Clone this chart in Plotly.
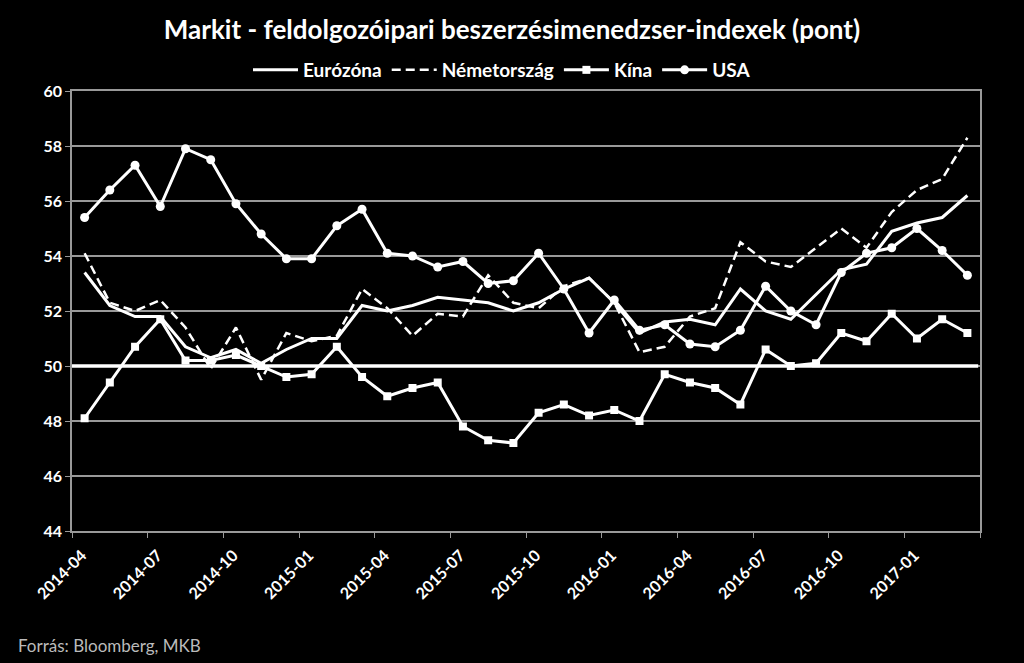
import plotly.graph_objects as go

months = ["2014-04","2014-05","2014-06","2014-07","2014-08","2014-09","2014-10","2014-11","2014-12",
          "2015-01","2015-02","2015-03","2015-04","2015-05","2015-06","2015-07","2015-08","2015-09",
          "2015-10","2015-11","2015-12","2016-01","2016-02","2016-03","2016-04","2016-05","2016-06",
          "2016-07","2016-08","2016-09","2016-10","2016-11","2016-12","2017-01","2017-02","2017-03"]

eurozone = [53.4,52.2,51.8,51.8,50.7,50.3,50.6,50.1,50.6,51.0,51.0,52.2,52.0,52.2,52.5,52.4,52.3,52.0,
            52.3,52.8,53.2,52.3,51.2,51.6,51.7,51.5,52.8,52.0,51.7,52.6,53.5,53.7,54.9,55.2,55.4,56.2]
germany = [54.1,52.3,52.0,52.4,51.4,49.9,51.4,49.5,51.2,50.9,51.1,52.8,52.1,51.1,51.9,51.8,53.3,52.3,
           52.1,52.9,53.2,52.3,50.5,50.7,51.8,52.1,54.5,53.8,53.6,54.3,55.0,54.3,55.6,56.4,56.8,58.3]
china = [48.1,49.4,50.7,51.7,50.2,50.2,50.4,50.0,49.6,49.7,50.7,49.6,48.9,49.2,49.4,47.8,47.3,47.2,
         48.3,48.6,48.2,48.4,48.0,49.7,49.4,49.2,48.6,50.6,50.0,50.1,51.2,50.9,51.9,51.0,51.7,51.2]
usa = [55.4,56.4,57.3,55.8,57.9,57.5,55.9,54.8,53.9,53.9,55.1,55.7,54.1,54.0,53.6,53.8,53.0,53.1,
       54.1,52.8,51.2,52.4,51.3,51.5,50.8,50.7,51.3,52.9,52.0,51.5,53.4,54.1,54.3,55.0,54.2,53.3]

title_text = "Markit - feldolgozóipari beszerzésimenedzser-indexek (pont)"
source_text = "Forrás: Bloomberg, MKB"
y_ticks = [44, 46, 48, 50, 52, 54, 56, 58, 60]

x = list(range(len(months)))
tick_pos = [i - 0.5 for i in range(0, len(months), 3)] + [len(months) - 0.5]
tick_txt = [months[i] for i in range(0, len(months), 3)] + [""]

FONT = "Lato"
PW, PH = 908, 440
fig = go.Figure()
fig.add_trace(go.Scatter(x=x, y=eurozone, name="Eurózóna", mode="lines",
                         line=dict(color="white", width=3)))
fig.add_trace(go.Scatter(x=x, y=germany, name="Németország", mode="lines",
                         line=dict(color="white", width=2.5, dash="9px,5px")))
fig.add_trace(go.Scatter(x=x, y=china, name="Kína", mode="lines+markers",
                         line=dict(color="white", width=3),
                         marker=dict(symbol="square", size=8, color="white")))
fig.add_trace(go.Scatter(x=x, y=usa, name="USA", mode="lines+markers",
                         line=dict(color="white", width=3),
                         marker=dict(symbol="circle", size=9, color="white")))

fig.add_shape(type="line", xref="paper", yref="y", x0=0, x1=0.998, y0=50, y1=50,
              line=dict(color="white", width=3.5), layer="above")

fig.update_layout(
    width=1024, height=663,
    paper_bgcolor="black", plot_bgcolor="black",
    margin=dict(l=72, r=44, t=91, b=132, autoexpand=False),
    font=dict(family=FONT, color="white"),
    title=dict(text=title_text, x=0.5, xref="container", xanchor="center",
               y=1 - 30 / 663, yref="container", yanchor="middle", automargin=False,
               font=dict(family=FONT, size=26, color="white", weight="bold")),
    legend=dict(orientation="h", x=(502 - 72) / PW, xref="paper", xanchor="center",
                y=1 + (91 - 70) / PH, yref="paper", yanchor="middle",
                font=dict(family=FONT, size=19, color="white", weight="bold"),
                bgcolor="rgba(0,0,0,0)", tracegroupgap=0, itemwidth=45),
    showlegend=True,
    xaxis=dict(range=[-0.5, len(months) - 0.5], tickmode="array", tickvals=tick_pos, ticktext=tick_txt,
               tickangle=-45, ticks="outside", ticklen=5, tickcolor="#999999", automargin=False,
               ticklabelshift=10, ticklabelstandoff=2,
               showgrid=False, zeroline=False, showline=True, linecolor="#999999", linewidth=1.5,
               mirror=True,
               tickfont=dict(family=FONT, size=16, color="white", weight="bold")),
    yaxis=dict(range=[44, 60], tickmode="array", tickvals=y_ticks, automargin=False,
               ticks="outside", ticklen=5, tickcolor="#999999",
               showgrid=True, gridcolor="#999999", gridwidth=1.5, zeroline=False,
               showline=True, linecolor="#999999", linewidth=1.5, mirror=True,
               tickfont=dict(family=FONT, size=16, color="white", weight="bold")),
)

fig.add_annotation(text=source_text, xref="paper", yref="paper", x=(16 - 72) / PW, y=-(645 - 531) / PH,
                   xanchor="left", yanchor="middle", showarrow=False,
                   font=dict(family=FONT, size=17, color="#bbbbbb"))

fig.write_html("out.html")
